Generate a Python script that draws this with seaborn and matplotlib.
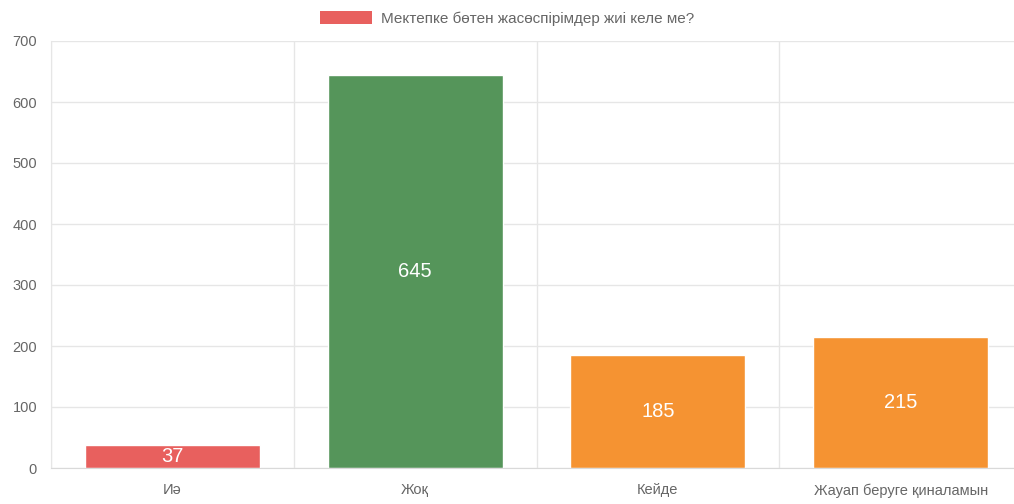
import matplotlib
matplotlib.use("Agg")
import matplotlib.pyplot as plt
import seaborn as sns
import pandas as pd
from matplotlib.patches import Patch

categories = ["Иә", "Жоқ", "Кейде", "Жауап беруге қиналамын"]
counts = [37, 645, 185, 215]
colors = ["#e8605e", "#55955a", "#f59332", "#f59332"]
legend_label = "Мектепке бөтен жасөспірімдер жиі келе ме?"
y_ticks = [0, 100, 200, 300, 400, 500, 600, 700]

df = pd.DataFrame({"cat": categories, "n": counts})

sns.set_style("white")
plt.rcParams["font.family"] = ["Liberation Sans", "DejaVu Sans"]

fig = plt.figure(figsize=(10.14, 5.04), dpi=100)
# plot area runs slightly past the right edge, like the original
ax = fig.add_axes([51 / 1014, 36 / 504, 971 / 1014, 427 / 504])

sns.barplot(data=df, x="cat", y="n", hue="cat", palette=colors, width=0.72,
            legend=False, ax=ax, saturation=1)

grid_c = "#e6e6e6"
ax.set_xlim(-0.5, 3.5)
ax.set_ylim(0, 700)
ax.set_yticks(y_ticks)
ax.set_xlabel("")
ax.set_ylabel("")
ax.set_xticks(range(len(categories)))
ax.set_xticklabels(categories)
ax.set_xticks([i - 0.5 for i in range(len(categories) + 1)], minor=True)
ax.tick_params(axis="x", which="major", length=0, pad=11, labelsize=10.5, labelcolor="#666666")
ax.tick_params(axis="x", which="minor", length=7, color=grid_c, width=1)
ax.tick_params(axis="y", length=7, color=grid_c, width=1, pad=3, labelsize=10.5, labelcolor="#666666")
ax.grid(axis="y", color=grid_c, linewidth=1)
ax.grid(axis="x", which="minor", color=grid_c, linewidth=1)
ax.set_axisbelow(True)
for s in ["top", "right"]:
    ax.spines[s].set_visible(False)
ax.spines["left"].set_color(grid_c)
ax.spines["bottom"].set_color("#d9d9d9")

for i, v in enumerate(counts):
    ax.text(i, v / 2, str(v), ha="center", va="center", color="white", fontsize=14.5)

fig.legend(handles=[Patch(facecolor=colors[0], edgecolor="none", label=legend_label)],
           loc="upper center", bbox_to_anchor=(0.5, 1.0), frameon=False,
           handlelength=3.4, handleheight=0.9, handletextpad=0.55,
           fontsize=11, labelcolor="#666666", borderaxespad=0.35)

fig.savefig("out.png", dpi=100)
